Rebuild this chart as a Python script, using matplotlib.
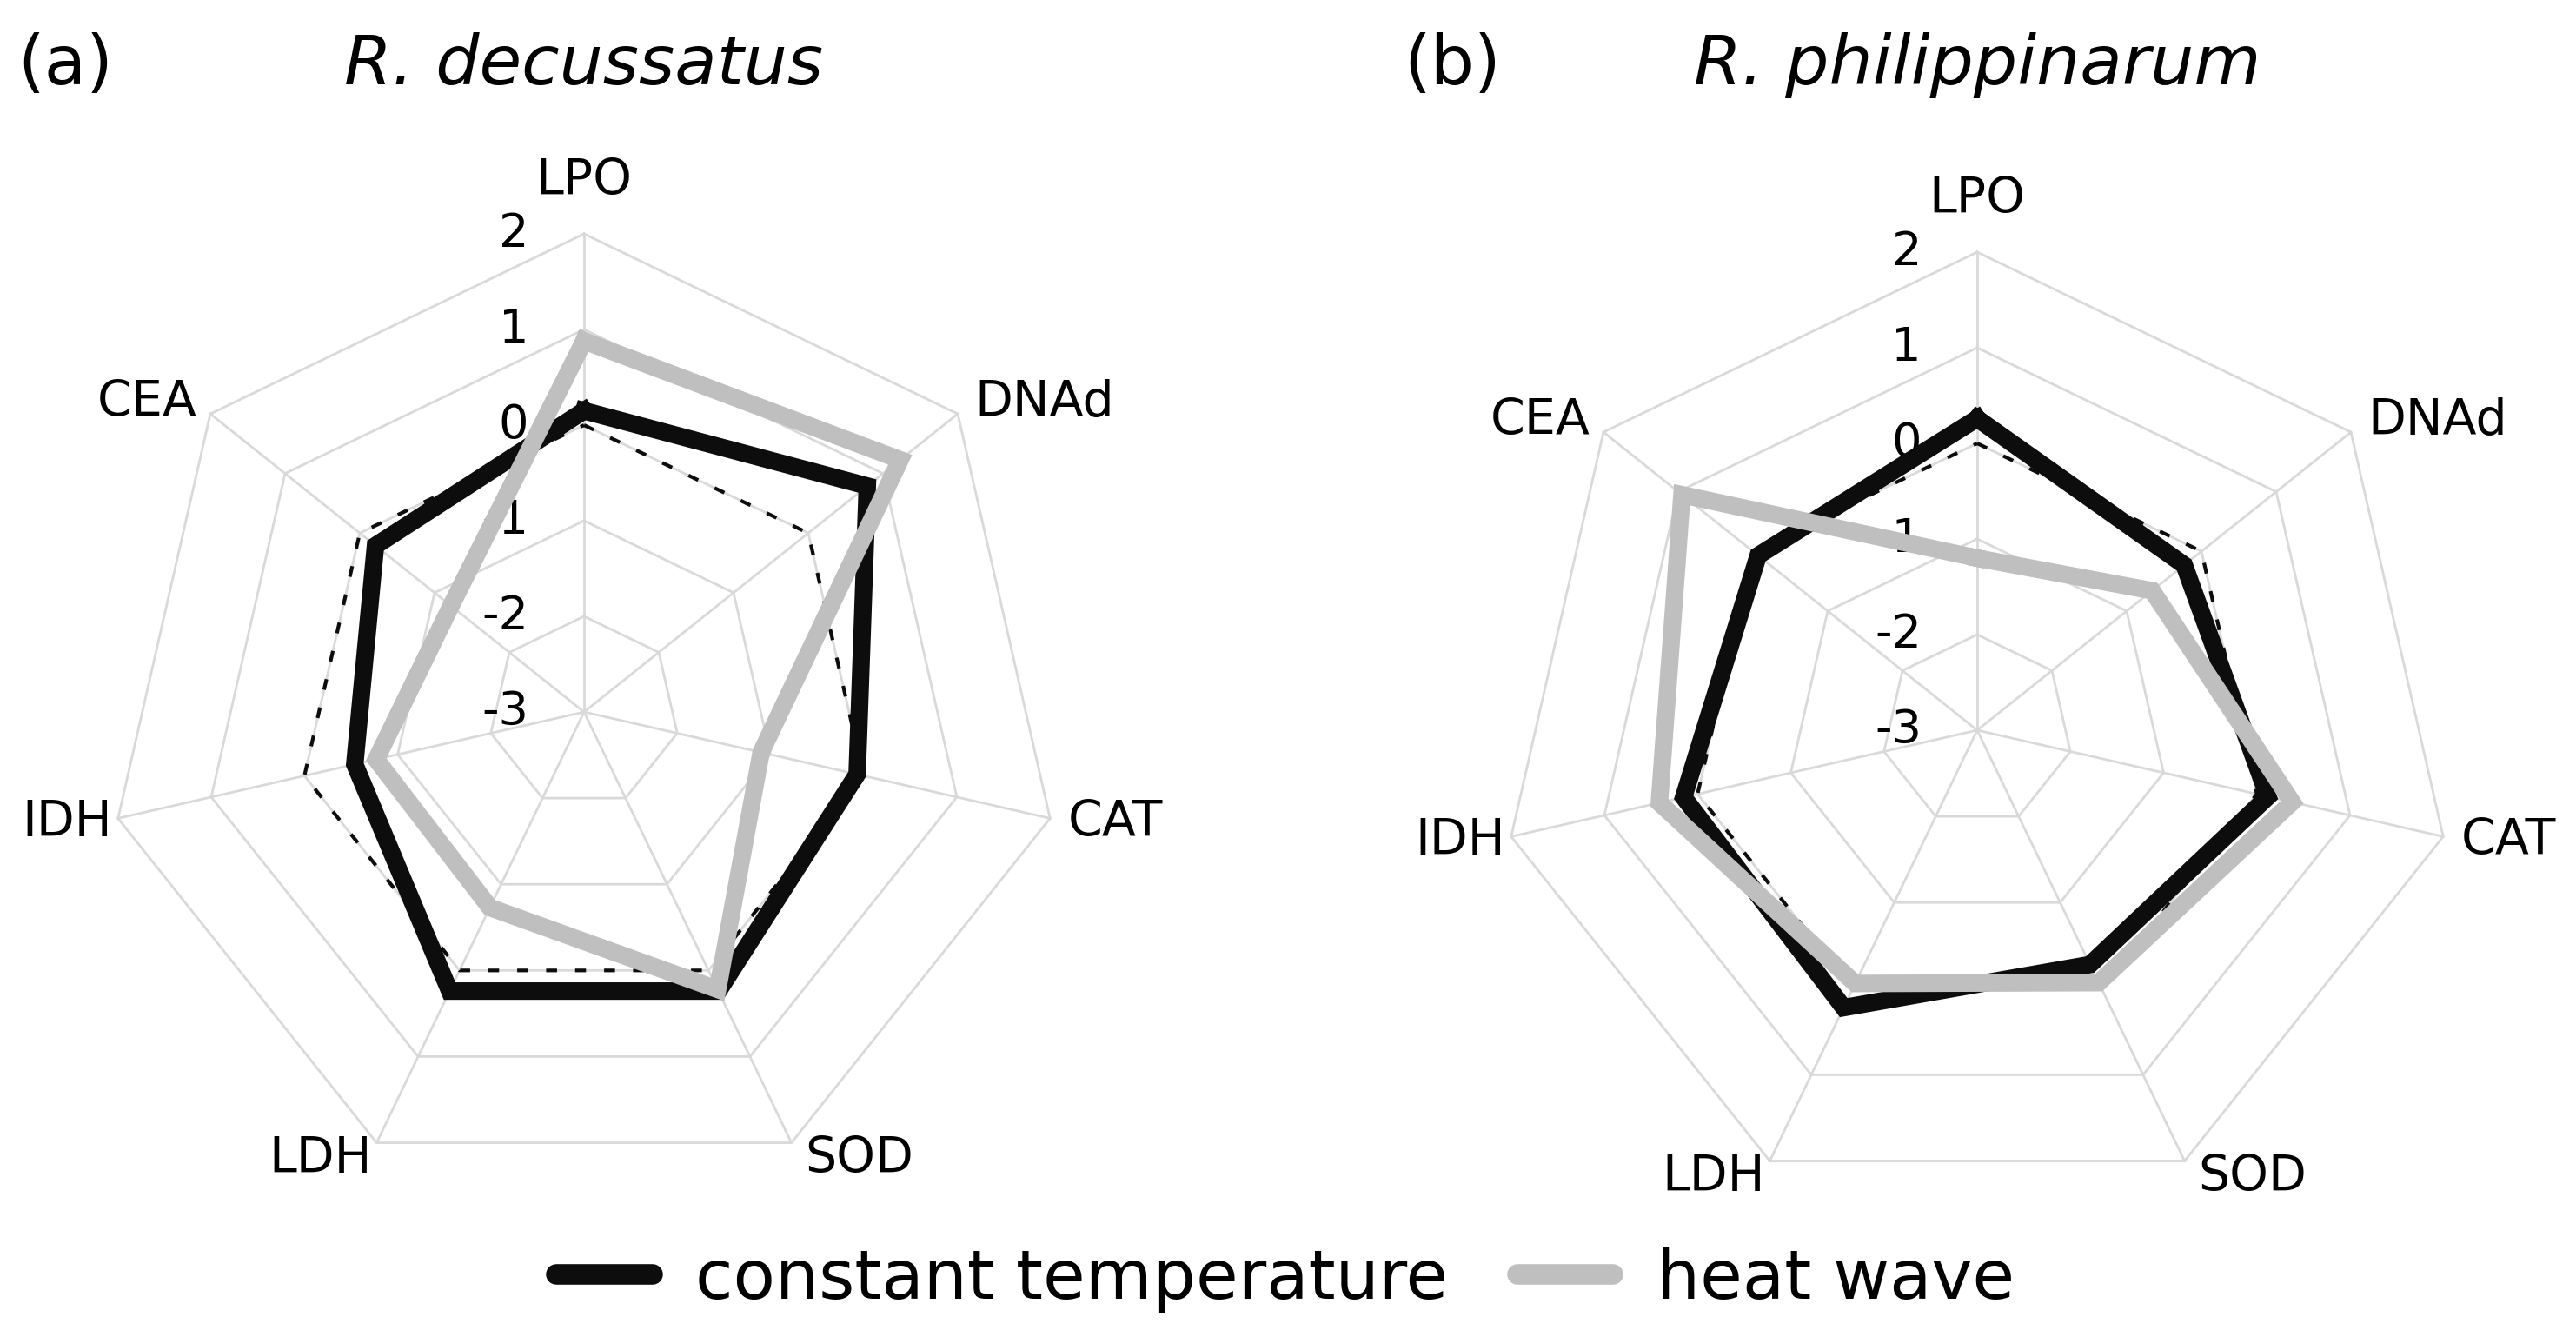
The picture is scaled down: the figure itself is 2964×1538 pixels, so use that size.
import numpy as np
import matplotlib
matplotlib.use("Agg")
import matplotlib.pyplot as plt
from matplotlib.lines import Line2D

plt.rcParams['font.family'] = 'DejaVu Sans'

# data
categories = ['LPO', 'DNAd', 'CAT', 'SOD', 'LDH', 'IDH', 'CEA']
ticks = [-3, -2, -1, 0, 1, 2]

dec_constant = [0.15, 0.79, -0.07, 0.24, 0.24, -0.54, -0.21]
dec_heatwave = [0.88, 1.23, -1.10, 0.22, -0.73, -0.77, -1.22]
dec_control = [0, 0, 0, 0, 0, 0, 0]

phi_constant = [0.26, -0.23, 0.12, -0.28, 0.22, 0.15, -0.07]
phi_heatwave = [-1.20, -0.66, 0.38, -0.07, -0.06, 0.41, 0.95]
phi_control = [0, 0, 0, 0, 0, 0, 0]

titles = ['R. decussatus', 'R. philippinarum']
letters = ['(a)', '(b)']
legend_labels = ['constant temperature', 'heat wave']

BLACK = '#0d0d0d'
GRAY = '#bfbfbf'
GRID = '#d9d9d9'
RMIN, RMAX = ticks[0], ticks[-1]

W, H = 2964, 1538
UNIT = 110.0          # pixels per radial unit
HALF = 7.0            # axes half extent in radial units

fig = plt.figure(figsize=(W / 100, H / 100), dpi=100)

# label offsets (pixels) from the outer vertex, and alignment
lab_off = [(0, 60, 'center'), (19, 13, 'left'), (21, -5, 'left'),
           (16, -19, 'left'), (-5, -19, 'right'), (-7, -5, 'right'),
           (-15, 13, 'right')]

ang = np.arange(len(categories)) * 2 * np.pi / len(categories)


def closed_xy(vals):
    r = np.asarray(vals, dtype=float) - RMIN
    r = np.append(r, r[0])
    a = np.append(ang, ang[0])
    return r * np.sin(a), r * np.cos(a)


def radar(cx, cy, cons, heat, ctrl, title, letter, letter_x):
    side = 2 * HALF * UNIT
    ax = fig.add_axes([(cx - HALF * UNIT) / W, (H - cy - HALF * UNIT) / H,
                       side / W, side / H])
    ax.set_xlim(-HALF, HALF)
    ax.set_ylim(-HALF, HALF)
    ax.axis('off')

    # grid
    for t in ticks[1:]:
        x, y = closed_xy([t] * len(categories))
        ax.plot(x, y, color=GRID, lw=2, zorder=1)
    outer = RMAX - RMIN
    for a in ang:
        ax.plot([0, outer * np.sin(a)], [0, outer * np.cos(a)],
                color=GRID, lw=2, zorder=1)

    # radial tick labels
    for t in ticks:
        ax.annotate(str(t), (0, t - RMIN), xytext=(-64 * 0.72, 0),
                    textcoords='offset points', ha='right', va='center',
                    fontsize=39, color='black', zorder=1.5)

    # category labels
    for a, name, (dx, dy, ha) in zip(ang, categories, lab_off):
        ax.annotate(name, (outer * np.sin(a), outer * np.cos(a)),
                    xytext=(dx * 0.72, dy * 0.72), textcoords='offset points',
                    ha=ha, va='center', fontsize=41, color='black')

    # series
    x, y = closed_xy(ctrl)
    ax.plot(x, y, color=BLACK, lw=3, dashes=(3, 5), zorder=2)
    x, y = closed_xy(cons)
    ax.plot(x, y, color=BLACK, lw=14.5, solid_joinstyle='miter', zorder=3)
    x, y = closed_xy(heat)
    ax.plot(x, y, color=GRAY, lw=14.5, solid_joinstyle='miter', zorder=4)

    fig.text(cx / W, 1 - 97 / H, title, style='italic', fontsize=57,
             ha='center', va='baseline')
    fig.text(letter_x / W, 1 - 97 / H, letter, fontsize=57,
             ha='left', va='baseline')


radar(672, 819, dec_constant, dec_heatwave, dec_control, titles[0], letters[0], 20)
radar(2275, 840, phi_constant, phi_heatwave, phi_control, titles[1], letters[1], 1615)

handles = [Line2D([], [], color=BLACK, lw=17, solid_capstyle='round'),
           Line2D([], [], color=GRAY, lw=17, solid_capstyle='round')]
fig.legend(handles, legend_labels, loc='center',
           bbox_to_anchor=(1479 / W, 1 - 1472 / H), ncol=2, frameon=False,
           fontsize=57, handlelength=1.4, handletextpad=0.62,
           columnspacing=1.0, borderpad=0, borderaxespad=0)

fig.savefig('out.png', dpi=100)
